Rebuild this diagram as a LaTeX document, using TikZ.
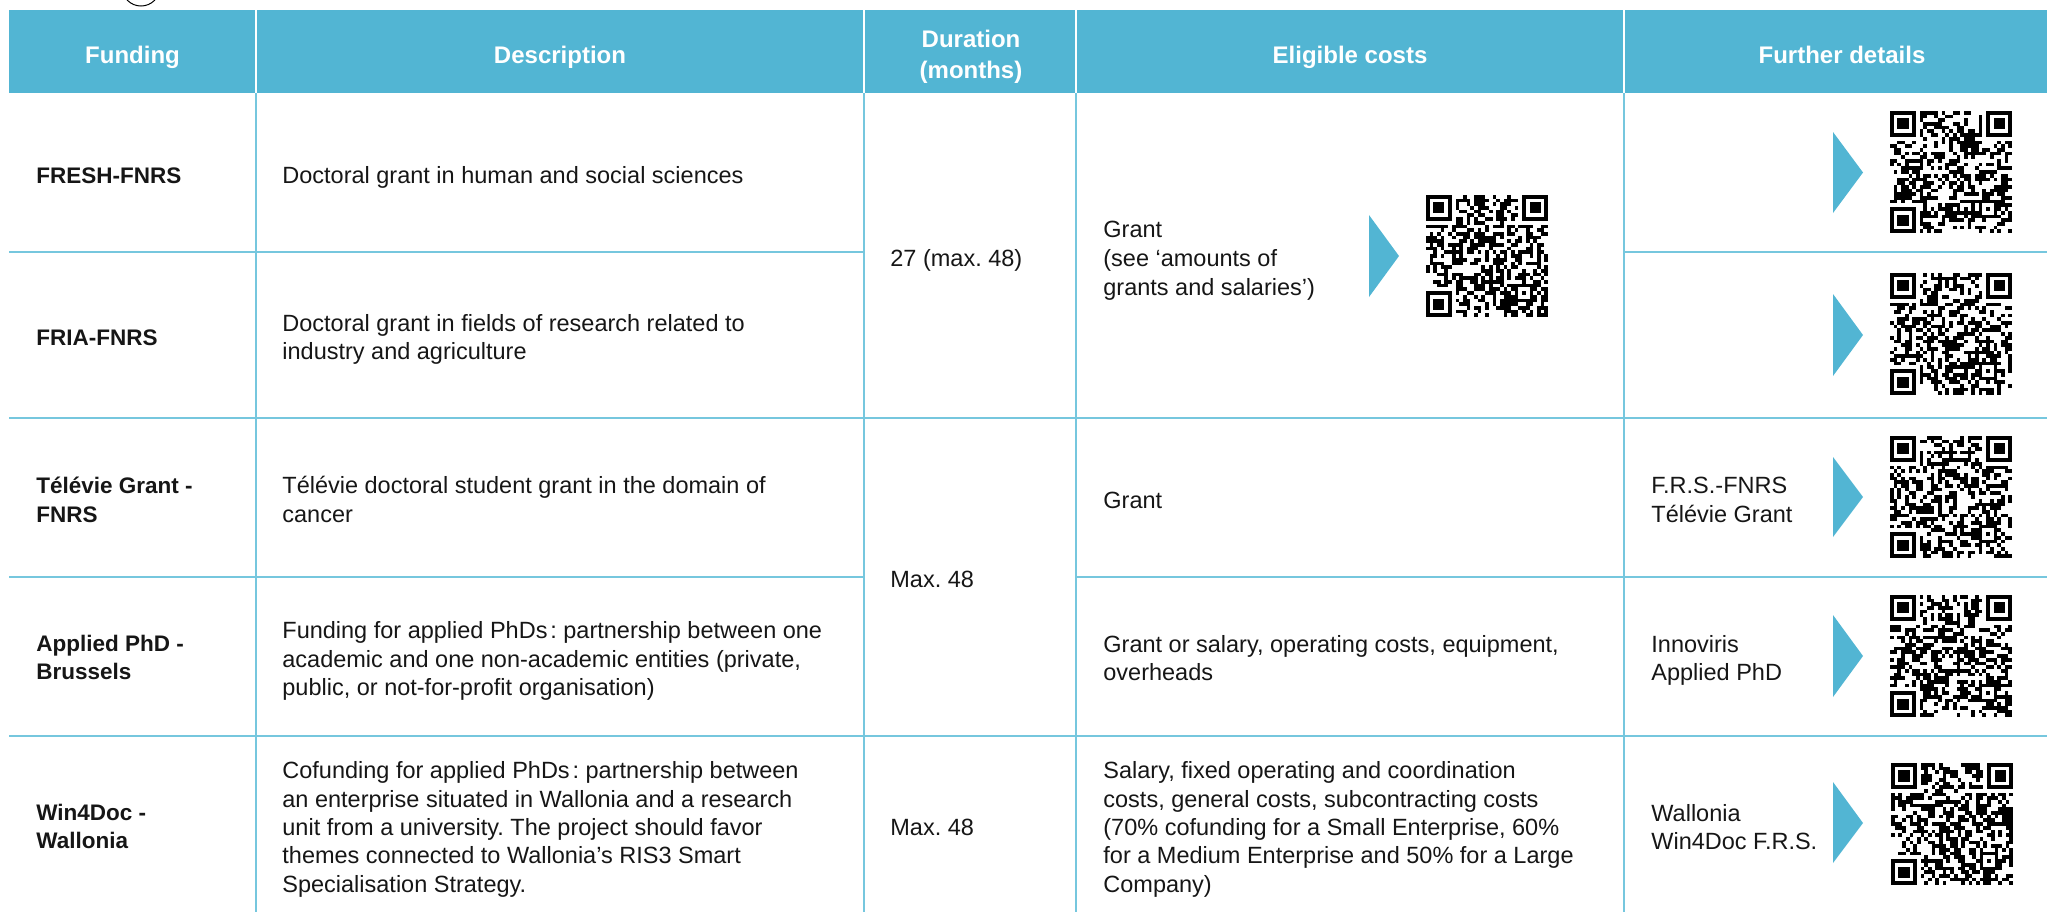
\documentclass[tikz,border=0pt]{standalone}
\usepackage{fontspec}
\setmainfont{Liberation Sans}
\frenchspacing
\definecolor{hdrc}{RGB}{82,181,211}
\definecolor{linec}{RGB}{118,199,222}
\definecolor{txtc}{RGB}{22,22,22}
\def\qrm{3.697}
\newcommand{\qrfind}[2]{%
  \fill[white] ({#1-\qrm},{#2-\qrm}) rectangle ++({9*\qrm},{9*\qrm});
  \fill[black] (#1,#2) rectangle ++({7*\qrm},{7*\qrm});
  \fill[white] ({#1+\qrm},{#2+\qrm}) rectangle ++({5*\qrm},{5*\qrm});
  \fill[black] ({#1+2*\qrm},{#2+2*\qrm}) rectangle ++({3*\qrm},{3*\qrm});
}
\newcommand{\qrcode}[3]{%
  \pgfmathsetseed{#3}%
  \foreach \i in {0,...,32}{%
    \foreach \j in {0,...,32}{%
      \pgfmathtruncatemacro{\qrb}{rnd<0.5}%
      \ifnum\qrb=1 \fill[black] ({#1+\i*\qrm},{#2+\j*\qrm}) rectangle ++(\qrm,\qrm);\fi
    }%
  }%
  \qrfind{#1}{#2}
  \qrfind{#1+26*\qrm}{#2}
  \qrfind{#1}{#2+26*\qrm}
  \fill[black] ({#1+24*\qrm},{#2+24*\qrm}) rectangle ++({5*\qrm},{5*\qrm});
  \fill[white] ({#1+25*\qrm},{#2+25*\qrm}) rectangle ++({3*\qrm},{3*\qrm});
  \fill[black] ({#1+26*\qrm},{#2+26*\qrm}) rectangle ++(\qrm,\qrm);
}
\tikzset{
  txt/.style={anchor=base west, inner sep=0pt, font=\fontsize{11.75}{14.3}\selectfont, text=txtc},
  lbl/.style={anchor=base west, inner sep=0pt, font=\bfseries\fontsize{11.25}{14}\selectfont, text=txtc},
  hdr/.style={anchor=base, inner sep=0pt, font=\bfseries\fontsize{12}{15}\selectfont, text=white},
  gridline/.style={draw=linec, line width=1pt},
  sepline/.style={draw=white, line width=1pt},
  arrowtri/.style={fill=hdrc},
}
\begin{document}
\begin{tikzpicture}[x=0.5pt,y=-0.5pt]
\useasboundingbox (0,0) rectangle (2047,912);
% partial circle at top
\draw[black, line width=0.5pt] (141,-13) circle[radius=19];
% header
\fill[hdrc] (9,10) rectangle (2047,93);
\foreach \xx in {256,864,1076,1624}{\draw[sepline] (\xx,10) -- (\xx,93);}
% grid
\foreach \xx in {256,864,1076,1624}{\draw[gridline] (\xx,93) -- (\xx,912);}
\draw[gridline] (9,252) -- (864,252);
\draw[gridline] (1624,252) -- (2047,252);
\draw[gridline] (9,418) -- (2047,418);
\draw[gridline] (9,577) -- (864,577);
\draw[gridline] (1076,577) -- (2047,577);
\draw[gridline] (9,736) -- (2047,736);
% header text
\node[hdr] (h1) at (132.5,63) {Funding};
\node[hdr] (h2) at (560,63) {Description};
\node[hdr] (h3a) at (971,47) {Duration};
\node[hdr] (h3b) at (971,78) {(months)};
\node[hdr] (h4) at (1350,63) {Eligible costs};
\node[hdr] (h5) at (1842,63) {Further details};
% funding column
\node[lbl] (f1) at (36,183) {FRESH-FNRS};
\node[lbl] (f2) at (36,345) {FRIA-FNRS};
\node[lbl] (f3a) at (36,493) {Télévie Grant -};
\node[lbl] (f3b) at (36,522) {FNRS};
\node[lbl] (f4a) at (36,651) {Applied PhD -};
\node[lbl] (f4b) at (36,679) {Brussels};
\node[lbl] (f5a) at (36,820) {Win4Doc -};
\node[lbl] (f5b) at (36,848) {Wallonia};
% description column
\node[txt] (d1) at (282,183) {Doctoral grant in human and social sciences};
\node[txt] (d2a) at (282,331) {Doctoral grant in fields of research related to};
\node[txt] (d2b) at (282,359) {industry and agriculture};
\node[txt] (d3a) at (282,493) {Télévie doctoral student grant in the domain of};
\node[txt] (d3b) at (282,522) {cancer};
\node[txt] (d4a) at (282,638) {Funding for applied PhDs\hspace{0.12em}: partnership between one};
\node[txt] (d4b) at (282,667) {academic and one non-academic entities (private,};
\node[txt] (d4c) at (282,695) {public, or not-for-profit organisation)};
\node[txt] (d5a) at (282,778) {Cofunding for applied PhDs\hspace{0.12em}: partnership between};
\node[txt] (d5b) at (282,807) {an enterprise situated in Wallonia and a research};
\node[txt] (d5c) at (282,835) {unit from a university. The project should favor};
\node[txt] (d5d) at (282,863) {themes connected to Wallonia’s RIS3 Smart};
\node[txt] (d5e) at (282,892) {Specialisation Strategy.};
% duration column
\node[txt] (m1) at (890,266) {27 (max. 48)};
\node[txt] (m2) at (890,587) {Max. 48};
\node[txt] (m3) at (890,835) {Max. 48};
% eligible costs column
\node[txt] (e1a) at (1103,237) {Grant};
\node[txt] (e1b) at (1103,266) {(see ‘amounts of};
\node[txt] (e1c) at (1103,295) {grants and salaries’)};
\node[txt] (e3) at (1103,508) {Grant};
\node[txt] (e4a) at (1103,652) {Grant or salary, operating costs, equipment,};
\node[txt] (e4b) at (1103,680) {overheads};
\node[txt] (e5a) at (1103,778) {Salary, fixed operating and coordination};
\node[txt] (e5b) at (1103,807) {costs, general costs, subcontracting costs};
\node[txt] (e5c) at (1103,835) {(70\% cofunding for a Small Enterprise, 60\%};
\node[txt] (e5d) at (1103,863) {for a Medium Enterprise and 50\% for a Large};
\node[txt] (e5e) at (1103,892) {Company)};
% further details column
\node[txt] (g3a) at (1651,493) {F.R.S.-FNRS};
\node[txt] (g3b) at (1651,522) {Télévie Grant};
\node[txt] (g4a) at (1651,652) {Innoviris};
\node[txt] (g4b) at (1651,680) {Applied PhD};
\node[txt] (g5a) at (1651,821) {Wallonia};
\node[txt] (g5b) at (1651,849) {Win4Doc F.R.S.};
% arrows
\fill[arrowtri] (1369,215) -- (1369,297) -- (1399,256) -- cycle;
\fill[arrowtri] (1833,132) -- (1833,213) -- (1863,172.5) -- cycle;
\fill[arrowtri] (1833,294) -- (1833,376) -- (1863,335) -- cycle;
\fill[arrowtri] (1833,457) -- (1833,537) -- (1863,497) -- cycle;
\fill[arrowtri] (1833,615) -- (1833,697) -- (1863,656) -- cycle;
\fill[arrowtri] (1833,782) -- (1833,863) -- (1863,823) -- cycle;
% QR codes
\qrcode{1426}{195}{11}
\qrcode{1890}{111}{23}
\qrcode{1890}{273}{37}
\qrcode{1890}{436}{41}
\qrcode{1890}{595}{53}
\qrcode{1891}{763}{67}
\end{tikzpicture}
\end{document}
